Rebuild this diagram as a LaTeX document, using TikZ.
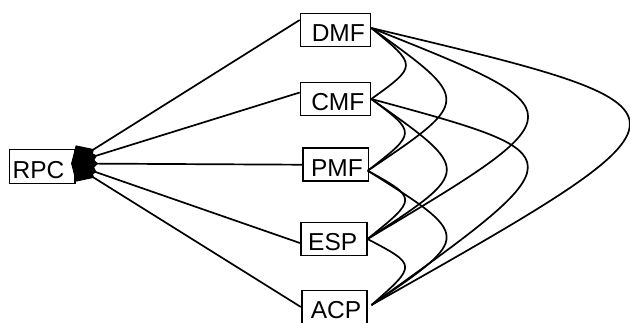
\documentclass[tikz,border=0pt]{standalone}
\usepackage{fontspec}
\setmainfont{Liberation Sans}
\usetikzlibrary{arrows.meta}
\begin{document}
\begin{tikzpicture}[x=1pt,y=-1pt,
  box/.style={draw, line width=1.6pt, inner sep=0pt,
    font=\fontsize{24.5}{28}\selectfont, text height=23pt, text depth=0pt,
    minimum height=33pt},
  conn/.style={line width=1.7pt},
  toRPC/.style={conn, -{Diamond[length=27pt,width=26pt]}},
]
\useasboundingbox (0,0) rectangle (630,322);
\node[box, minimum width=65.5pt, minimum height=34pt] (RPC) at (42.3,166.5) {\hspace*{-7.6pt}RPC};
\node[box, minimum width=70pt] (DMF) at (335.5,30) {\hspace*{5.6pt}DMF};
\node[box, minimum width=70pt] (CMF) at (335.5,99) {\hspace*{4.6pt}CMF};
\node[box, minimum width=65.5pt] (PMF) at (335.7,164.7) {\hspace*{2.4pt}PMF};
\node[box, minimum width=66pt] (ESP) at (333.7,239) {\hspace*{-2pt}ESP};
\node[box, minimum width=65pt] (ACP) at (334.2,307) {\hspace*{3.6pt}ACP};

% connectors to RPC
\draw[toRPC] ([yshift=10pt]DMF.west) -- ([shift={(-4.7pt,3pt)}]RPC.east);
\draw[toRPC] ([yshift=6.5pt]CMF.west) -- ([shift={(-4.7pt,3pt)}]RPC.east);
\draw[toRPC] (PMF.west) -- ([shift={(-4.7pt,3pt)}]RPC.east);
\draw[toRPC] ([yshift=-4pt]ESP.west) -- ([shift={(-4.7pt,3pt)}]RPC.east);
\draw[toRPC] (ACP.west) -- ([shift={(-4.7pt,3pt)}]RPC.east);

% curves between the right-hand boxes
\draw[conn] ([yshift=2pt]DMF.east) .. controls (417.5,65.7) .. (CMF.east);
\draw[conn] ([yshift=2pt]DMF.east) .. controls (472,100.3) .. ([xshift=-1.5pt,yshift=-6pt]PMF.east);
\draw[conn] ([yshift=2pt]DMF.east) .. controls (581,111.5) .. (ESP.east);
\draw[conn] ([yshift=2pt]DMF.east) .. controls (716,110) .. ([xshift=4pt,yshift=2pt]ACP.east);
\draw[conn] (CMF.east) .. controls (416.7,132.7) .. ([xshift=-1.5pt,yshift=-6pt]PMF.east);
\draw[conn] (CMF.east) .. controls (472.6,170.5) .. (ESP.east);
\draw[conn] (CMF.east) .. controls (580,155.5) .. ([xshift=4pt,yshift=2pt]ACP.east);
\draw[conn] ([xshift=-1.5pt,yshift=-6pt]PMF.east) .. controls (417.7,198.5) .. (ESP.east);
\draw[conn] ([xshift=-1.5pt,yshift=-6pt]PMF.east) .. controls (472.3,236.4) .. ([xshift=4pt,yshift=2pt]ACP.east);
\draw[conn] (ESP.east) .. controls (417,265) .. ([xshift=4pt,yshift=2pt]ACP.east);
\end{tikzpicture}
\end{document}
